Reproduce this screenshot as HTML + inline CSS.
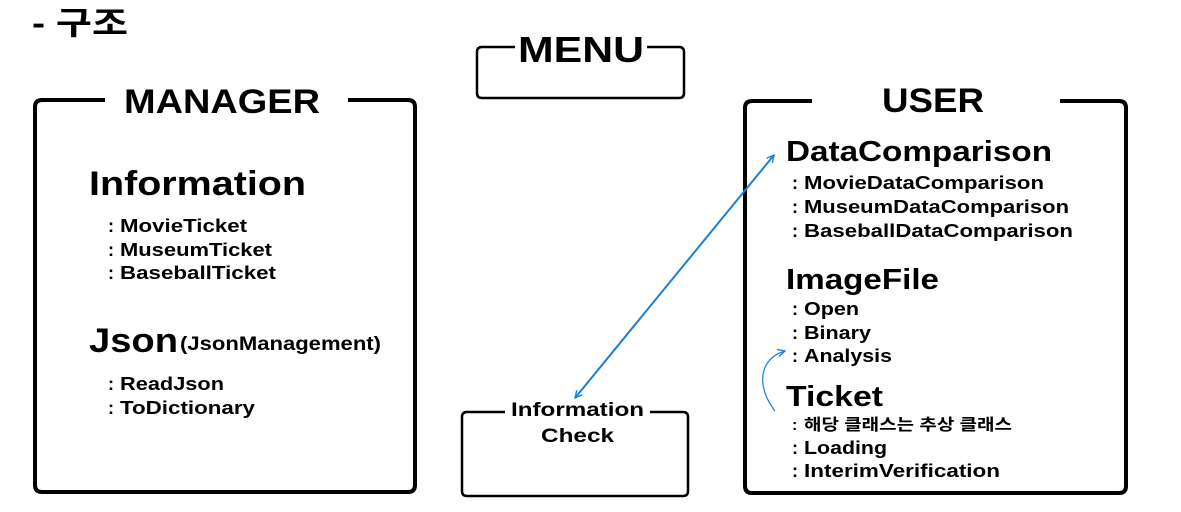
<!DOCTYPE html>
<html><head><meta charset="utf-8"><style>
html,body{margin:0;padding:0;background:#fff;}
svg{display:block}
text{font-family:"Liberation Sans","Noto Sans CJK KR",sans-serif;font-weight:bold;fill:#000}
</style></head><body>
<svg width="1181" height="512" viewBox="0 0 1181 512" xmlns="http://www.w3.org/2000/svg">
<defs>
<marker id="ah" viewBox="0 0 10 10" refX="9" refY="5" markerWidth="9" markerHeight="9" orient="auto-start-reverse" markerUnits="userSpaceOnUse">
<path d="M1,1 L9,5 L1,9" fill="none" stroke="#1a7fd6" stroke-width="1.5"/>
</marker>
</defs>
<text x="32" y="34" font-size="32" textLength="96" lengthAdjust="spacingAndGlyphs">- 구조</text>

<!-- MENU -->
<path d="M515,47 H482 Q477,47 477,52 V93 Q477,98 482,98 H679 Q684,98 684,93 V52 Q684,47 679,47 H647" fill="none" stroke="#000" stroke-width="2.5"/>
<text x="518" y="62" font-size="36" textLength="126" lengthAdjust="spacingAndGlyphs">MENU</text>

<!-- MANAGER -->
<path d="M105,100 H42 Q35,100 35,107 V485 Q35,492 42,492 H408 Q415,492 415,485 V107 Q415,100 408,100 H348" fill="none" stroke="#000" stroke-width="4"/>
<text x="124" y="113" font-size="34" textLength="196" lengthAdjust="spacingAndGlyphs">MANAGER</text>
<text x="89" y="195" font-size="34" textLength="217" lengthAdjust="spacingAndGlyphs">Information</text>
<text x="108" y="232" font-size="18">:</text><text x="120" y="232" font-size="18" textLength="127" lengthAdjust="spacingAndGlyphs">MovieTicket</text>
<text x="108" y="256" font-size="18">:</text><text x="120" y="256" font-size="18" textLength="152" lengthAdjust="spacingAndGlyphs">MuseumTicket</text>
<text x="108" y="279" font-size="18">:</text><text x="120" y="279" font-size="18" textLength="156" lengthAdjust="spacingAndGlyphs">BaseballTicket</text>
<text x="89" y="352" font-size="34" textLength="89" lengthAdjust="spacingAndGlyphs">Json</text>
<text x="180" y="350" font-size="19" textLength="201" lengthAdjust="spacingAndGlyphs">(JsonManagement)</text>
<text x="108" y="390" font-size="18">:</text><text x="120" y="390" font-size="18" textLength="104" lengthAdjust="spacingAndGlyphs">ReadJson</text>
<text x="108" y="414" font-size="18">:</text><text x="120" y="414" font-size="18" textLength="135" lengthAdjust="spacingAndGlyphs">ToDictionary</text>

<!-- USER -->
<path d="M812,101 H752 Q745,101 745,108 V486 Q745,493 752,493 H1119 Q1126,493 1126,486 V108 Q1126,101 1119,101 H1060" fill="none" stroke="#000" stroke-width="4"/>
<text x="882" y="112" font-size="34" textLength="102" lengthAdjust="spacingAndGlyphs">USER</text>
<text x="786" y="161" font-size="29" textLength="266" lengthAdjust="spacingAndGlyphs">DataComparison</text>
<text x="792" y="189" font-size="18">:</text><text x="804" y="189" font-size="18" textLength="240" lengthAdjust="spacingAndGlyphs">MovieDataComparison</text>
<text x="792" y="213" font-size="18">:</text><text x="804" y="213" font-size="18" textLength="265" lengthAdjust="spacingAndGlyphs">MuseumDataComparison</text>
<text x="792" y="237" font-size="18">:</text><text x="804" y="237" font-size="18" textLength="269" lengthAdjust="spacingAndGlyphs">BaseballDataComparison</text>
<text x="786" y="289" font-size="29" textLength="153" lengthAdjust="spacingAndGlyphs">ImageFile</text>
<text x="792" y="315" font-size="18">:</text><text x="804" y="315" font-size="18" textLength="55" lengthAdjust="spacingAndGlyphs">Open</text>
<text x="792" y="339" font-size="18">:</text><text x="804" y="339" font-size="18" textLength="67" lengthAdjust="spacingAndGlyphs">Binary</text>
<text x="792" y="362" font-size="18">:</text><text x="804" y="362" font-size="18" textLength="88" lengthAdjust="spacingAndGlyphs">Analysis</text>
<text x="786" y="406" font-size="29" textLength="97" lengthAdjust="spacingAndGlyphs">Ticket</text>
<text x="792" y="430" font-size="16">:</text><text x="804" y="430" font-size="16" textLength="208" lengthAdjust="spacingAndGlyphs">해당 클래스는 추상 클래스</text>
<text x="792" y="454" font-size="18">:</text><text x="804" y="454" font-size="18" textLength="83" lengthAdjust="spacingAndGlyphs">Loading</text>
<text x="792" y="477" font-size="18">:</text><text x="804" y="477" font-size="18" textLength="196" lengthAdjust="spacingAndGlyphs">InterimVerification</text>

<!-- Information Check -->
<path d="M505,412 H467 Q462,412 462,417 V491 Q462,496 467,496 H683 Q688,496 688,491 V417 Q688,412 683,412 H650" fill="none" stroke="#000" stroke-width="2.5"/>
<text x="511" y="416" font-size="19" textLength="133" lengthAdjust="spacingAndGlyphs">Information</text>
<text x="541" y="442" font-size="19" textLength="73" lengthAdjust="spacingAndGlyphs">Check</text>

<!-- arrows -->
<line x1="575" y1="398" x2="774" y2="155" stroke="#1a7fd6" stroke-width="2" marker-start="url(#ah)" marker-end="url(#ah)"/>
<path d="M775,411 C755,385 760,358 785,351" fill="none" stroke="#1a7fd6" stroke-width="1.2" marker-end="url(#ah)"/>
</svg>
</body></html>
